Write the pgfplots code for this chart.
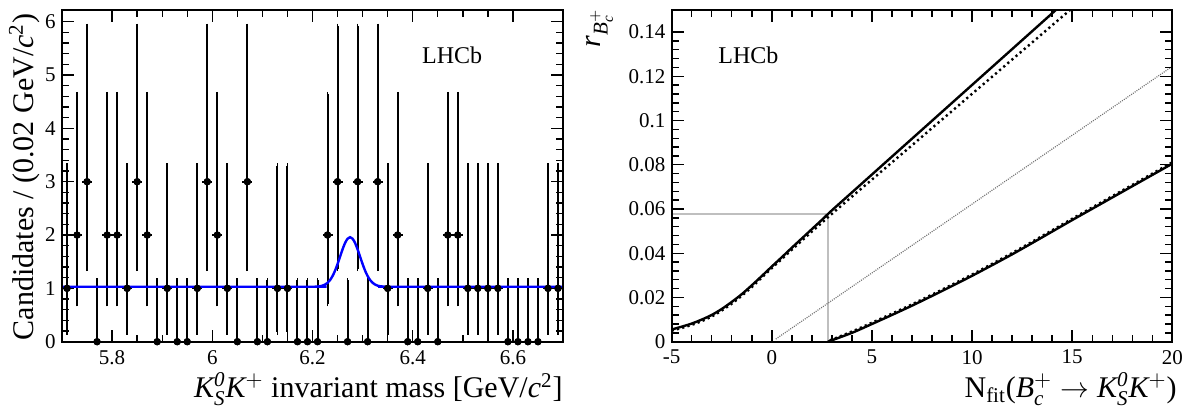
\documentclass[border=0pt]{standalone}
\usepackage{amsmath}
\usepackage{fontspec}
\setmainfont{Liberation Serif}
\usepackage{pgfplots}
\usepackage{pgfplotstable}
\pgfplotsset{compat=1.18}

% Binned candidates: bin centre, count, Poisson upper and lower errors
\pgfplotstableread{
x     n  ep      em
5.71  1  2.2995  0.8273
5.73  2  2.6378  1.2918
5.75  3  2.9182  1.6328
5.77  0  1.1479  0
5.79  2  2.6378  1.2918
5.81  2  2.6378  1.2918
5.83  1  2.2995  0.8273
5.85  3  2.9182  1.6328
5.87  2  2.6378  1.2918
5.89  0  1.1479  0
5.91  1  2.2995  0.8273
5.93  0  1.1479  0
5.95  0  1.1479  0
5.97  1  2.2995  0.8273
5.99  3  2.9182  1.6328
6.01  2  2.6378  1.2918
6.03  1  2.2995  0.8273
6.05  0  1.1479  0
6.07  3  2.9182  1.6328
6.09  0  1.1479  0
6.11  0  1.1479  0
6.13  1  2.2995  0.8273
6.15  1  2.2995  0.8273
6.17  0  1.1479  0
6.19  0  1.1479  0
6.21  0  1.1479  0
6.23  2  2.6378  1.2918
6.25  3  2.9182  1.6328
6.27  0  1.1479  0
6.29  3  2.9182  1.6328
6.31  0  1.1479  0
6.33  3  2.9182  1.6328
6.35  1  2.2995  0.8273
6.37  2  2.6378  1.2918
6.39  0  1.1479  0
6.41  0  1.1479  0
6.43  1  2.2995  0.8273
6.45  0  1.1479  0
6.47  2  2.6378  1.2918
6.49  2  2.6378  1.2918
6.51  1  2.2995  0.8273
6.53  1  2.2995  0.8273
6.55  1  2.2995  0.8273
6.57  1  2.2995  0.8273
6.59  0  1.1479  0
6.61  0  1.1479  0
6.63  0  1.1479  0
6.65  0  1.1479  0
6.67  1  2.2995  0.8273
6.69  1  2.2995  0.8273
}\candidates

\pgfplotsset{
  rootframe/.style={
    scale only axis,
    axis line style={black, line width=1pt},
    tick align=inside,
    tick pos=both,
    xticklabel pos=lower,
    yticklabel pos=left,
    major tick length=6pt,
    minor tick length=3.5pt,
    every tick/.style={black, line width=0.7pt},
    tick label style={font=\rmfamily\fontsize{10.5}{12}\selectfont, inner sep=0pt},
    xticklabel style={yshift=-4pt},
    yticklabel style={xshift=-3pt},
    axis on top,
  },
}

\begin{document}
\begin{tikzpicture}
\useasboundingbox (0,0) rectangle (592pt,206pt);

% ---- invariant-mass distribution ----
\begin{axis}[
  rootframe,
  at={(31pt,35.15pt)}, anchor=south west,
  width=250.5pt, height=165.85pt,
  xmin=5.7, xmax=6.7, ymin=0, ymax=6.22,
  xtick={5.8,6.0,6.2,6.4,6.6},
  xticklabels={\textrm{5.8},\textrm{6},\textrm{6.2},\textrm{6.4},\textrm{6.6}},
  minor x tick num=3,
  ytick={0,1,2,3,4,5,6},
  yticklabels={\textrm{0},\textrm{1},\textrm{2},\textrm{3},\textrm{4},\textrm{5},\textrm{6}},
  minor y tick num=4,
]
\addplot[only marks, mark=*, mark size=1.6pt, black,
  error bars/x dir=both, error bars/x fixed=0.01,
  error bars/error mark=none,
  error bars/error bar style={line width=1pt, black}]
  table[x=x, y=n] {\candidates};
\addplot[only marks, mark=*, mark size=1.6pt, black,
  error bars/y dir=both, error bars/y explicit,
  error bars/error mark=-,
  error bars/error mark options={mark size=1.2pt, line width=0.9pt, black},
  error bars/error bar style={line width=1pt, black}]
  table[x=x, y=n, y error plus=ep, y error minus=em] {\candidates};
\addplot[blue, line width=1.2pt, smooth] coordinates {
  (5.700,1.030) (6.195,1.030) (6.205,1.032) (6.215,1.040) (6.220,1.051)
  (6.225,1.071) (6.230,1.104) (6.235,1.156) (6.240,1.231) (6.245,1.332)
  (6.250,1.456) (6.255,1.594) (6.260,1.732) (6.265,1.851) (6.270,1.931)
  (6.275,1.960) (6.280,1.931) (6.285,1.851) (6.290,1.732) (6.295,1.594)
  (6.300,1.456) (6.305,1.332) (6.310,1.231) (6.315,1.156) (6.320,1.104)
  (6.325,1.071) (6.330,1.051) (6.335,1.040) (6.345,1.032) (6.355,1.030)
  (6.700,1.030)
};
\end{axis}

% ---- upper limit versus fitted yield ----
\begin{axis}[
  rootframe,
  at={(335.85pt,35.15pt)}, anchor=south west,
  width=250.3pt, height=165.85pt,
  xmin=-5, xmax=20, ymin=0, ymax=0.15,
  xtick={-5,0,5,10,15,20},
  xticklabels={\textrm{-5},\textrm{0},\textrm{5},\textrm{10},\textrm{15},\textrm{20}},
  minor x tick num=4,
  ytick={0,0.02,0.04,0.06,0.08,0.1,0.12,0.14},
  yticklabels={\textrm{0},\textrm{0.02},\textrm{0.04},\textrm{0.06},\textrm{0.08},\textrm{0.1},\textrm{0.12},\textrm{0.14}},
  minor y tick num=4,
  scaled y ticks=false,
]
% reference lines at the observed yield
\addplot[black!25, line width=1pt] coordinates {(-5,0.0577) (2.8,0.0577)};
\addplot[black!25, line width=1pt] coordinates {(2.8,0) (2.8,0.0577)};
% linear reference
\addplot[black!55, line width=0.6pt, dash pattern=on 0.5pt off 0.6pt] coordinates {
  (0.2,0.0012) (20,0.1245)
};
% upper curves
\addplot[black, line width=1.2pt, smooth] coordinates {
  (-5,0.0055) (-4.5,0.0068) (-4,0.0082) (-3.5,0.0100) (-3,0.0121)
  (-2.5,0.0148) (-2,0.0180) (-1.5,0.0215) (-1,0.0255) (-0.5,0.0297)
  (0,0.0340) (0.5,0.0382) (1,0.0425) (1.5,0.0467) (2,0.0509)
  (2.5,0.0551) (3,0.0594) (4,0.0675) (5,0.0756) (6,0.0837) (7,0.0918)
  (8,0.0999) (9,0.1080) (10,0.1161) (11,0.1242) (12,0.1323) (13,0.1404)
  (14,0.1485) (14.6,0.1534)
};
\addplot[black, line width=1.2pt, dash pattern=on 1.1pt off 1.6pt, smooth] coordinates {
  (-5,0.0050) (-4.5,0.0062) (-4,0.0076) (-3.5,0.0093) (-3,0.0114)
  (-2.5,0.0141) (-2,0.0172) (-1.5,0.0208) (-1,0.0247) (-0.5,0.0290)
  (0,0.0333) (0.5,0.0374) (1,0.0416) (1.5,0.0457) (2,0.0498)
  (2.5,0.0538) (3,0.0578) (4,0.0656) (5,0.0733) (6,0.0811) (7,0.0888)
  (8,0.0966) (9,0.1043) (10,0.1121) (11,0.1198) (12,0.1276) (13,0.1353)
  (14,0.1431) (15,0.1508) (15.4,0.1539)
};
% lower curves
\addplot[black, line width=1.2pt, smooth] coordinates {
  (2.8,0) (4,0.0040) (5,0.0080) (6,0.0121) (7,0.0163) (8,0.0207)
  (9,0.0252) (10,0.0298) (11,0.0346) (12,0.0395) (13,0.0446)
  (14,0.0498) (15,0.0550) (16,0.0601) (17,0.0652) (18,0.0703)
  (19,0.0754) (20,0.0805)
};
\addplot[black, line width=1.2pt, dash pattern=on 1.1pt off 1.6pt, smooth] coordinates {
  (2.9,0.0006) (4,0.0046) (5,0.0086) (6,0.0127) (7,0.0169) (8,0.0213)
  (9,0.0258) (10,0.0304) (11,0.0352) (12,0.0401) (13,0.0452)
  (14,0.0504) (15,0.0556) (16,0.0607) (17,0.0658) (18,0.0709)
  (19,0.0760) (20,0.0811)
};
\end{axis}

% axis titles and experiment labels
\node[rotate=90, anchor=base east, inner sep=0pt, font=\fontsize{15}{18}\selectfont]
  at (16.7pt,199.3pt) {Candidates / (0.02 GeV/$\textit{c}^{\textrm{2}}$)};
\node[anchor=base east, inner sep=0pt, font=\fontsize{15}{18}\selectfont]
  at (281.5pt,7pt) {$\textit{K}^{\textit{0}}_{\textit{S}}\textit{K}^{+}$ invariant mass [GeV/$\textit{c}^{\textrm{2}}$]};
\node[rotate=90, anchor=base east, inner sep=0pt, font=\fontsize{15}{18}\selectfont]
  at (300pt,202pt) {$\textit{r}_{\textit{B}_{\textit{c}}^{+}}$};
\node[anchor=base east, inner sep=0pt, font=\fontsize{15}{18}\selectfont]
  at (588.5pt,7pt) {N$_{\textrm{fit}}$($\textit{B}_{\textit{c}}^{+}\rightarrow\textit{K}^{\textit{0}}_{\textit{S}}\textit{K}^{+}$)};
\node[anchor=base west, inner sep=0pt, font=\fontsize{12}{14}\selectfont]
  at (210.85pt,174.35pt) {LHCb};
\node[anchor=base west, inner sep=0pt, font=\fontsize{12}{14}\selectfont]
  at (359pt,174.35pt) {LHCb};
\end{tikzpicture}
\end{document}
